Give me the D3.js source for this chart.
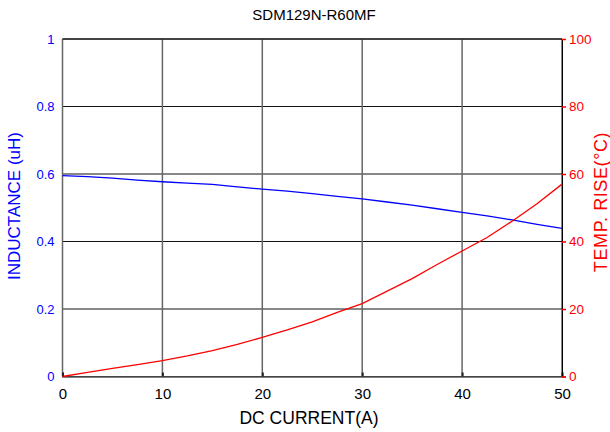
<!DOCTYPE html>
<html>
<head>
<meta charset="utf-8">
<script src="https://cdn.jsdelivr.net/npm/d3@7"></script>
<style>
  body { margin: 0; background: #fff; }
  svg { display: block; font-family: "Liberation Sans", Arial, sans-serif; }
</style>
</head>
<body>
<svg id="chart" width="610" height="432"></svg>
<script>
// readings, every 2.5 A
var current = [0, 2.5, 5, 7.5, 10, 12.5, 15, 17.5, 20, 22.5, 25, 27.5, 30, 32.5, 35, 37.5, 40, 42.5, 45, 47.5, 50];
var inductance = [0.595, 0.592, 0.588, 0.582, 0.577, 0.573, 0.569, 0.562, 0.555, 0.549, 0.542, 0.534, 0.526, 0.517, 0.508, 0.497, 0.486, 0.476, 0.464, 0.451, 0.439];
var tempRise = [0, 1.2, 2.4, 3.5, 4.7, 6.1, 7.7, 9.5, 11.6, 13.8, 16.2, 19.0, 21.6, 25.3, 29.0, 33.2, 37.2, 41.2, 46.0, 51.2, 57.0];
var xTicks = [0, 10, 20, 30, 40, 50];
var leftTicks = [0, 0.2, 0.4, 0.6, 0.8, 1];
var rightTicks = [0, 20, 40, 60, 80, 100];

var svg = d3.select('#chart');
// plot box (named so they don't clash with window.top)
var pLeft = 62.5, pRight = 562, pTop = 39, pBottom = 376.5;

var x = d3.scaleLinear().domain([0, 50]).range([pLeft, pRight]);
var yL = d3.scaleLinear().domain([0, 1]).range([pBottom, pTop]);
var yR = d3.scaleLinear().domain([0, 100]).range([pBottom, pTop]);

// horizontal grid
svg.append('g').selectAll('line')
  .data(leftTicks)
  .enter().append('line')
  .attr('x1', pLeft).attr('x2', pRight)
  .attr('y1', function(d){ return yL(d); })
  .attr('y2', function(d){ return yL(d); })
  .attr('stroke', '#111').attr('stroke-width', 1);

// vertical grid (softer, slightly wider like the reference)
svg.append('g').selectAll('line')
  .data(xTicks)
  .enter().append('line')
  .attr('x1', function(d){ return x(d); })
  .attr('x2', function(d){ return x(d); })
  .attr('y1', pTop).attr('y2', pBottom)
  .attr('stroke', function(d){ return d === 50 ? '#111' : '#666'; })
  .attr('stroke-width', function(d){ return d === 50 ? 1 : 1.5; });

// bottom axis with inward ticks
var xAxis = svg.append('g')
  .attr('transform', 'translate(0,' + pBottom + ')')
  .call(d3.axisBottom(x).tickValues(xTicks).tickSize(-4).tickPadding(12).tickFormat(d3.format('d')));
xAxis.select('.domain').attr('stroke', '#555').attr('stroke-width', 1.5);
xAxis.selectAll('.tick line').attr('stroke', '#222').attr('stroke-width', 2);
xAxis.selectAll('text').attr('font-size', 15).attr('fill', '#000').attr('font-family', 'Liberation Sans, Arial, sans-serif');

// left axis labels (blue, no ticks)
var lAxis = svg.append('g')
  .attr('transform', 'translate(' + pLeft + ',0)')
  .call(d3.axisLeft(yL).tickValues(leftTicks).tickSize(0).tickPadding(8).tickFormat(d3.format('')));
lAxis.select('.domain').remove();
lAxis.selectAll('text').attr('font-size', 13).attr('fill', '#0000ff').attr('font-family', 'Liberation Sans, Arial, sans-serif');

// right axis (red ticks and labels)
var rAxis = svg.append('g')
  .attr('transform', 'translate(' + pRight + ',0)')
  .call(d3.axisRight(yR).tickValues(rightTicks).tickSize(4).tickPadding(3).tickFormat(d3.format('d')));
rAxis.select('.domain').attr('stroke', '#000');
rAxis.selectAll('.tick line').attr('stroke', '#ff0000').attr('stroke-width', 1.5);
rAxis.selectAll('text').attr('font-size', 13.5).attr('fill', '#ff0000').attr('font-family', 'Liberation Sans, Arial, sans-serif');

// top border
svg.append('line')
  .attr('x1', pLeft).attr('x2', pRight).attr('y1', pTop).attr('y2', pTop)
  .attr('stroke', '#000').attr('stroke-width', 1);

// curves
var indLine = d3.line()
  .x(function(d, i){ return x(current[i]); })
  .y(function(d){ return yL(d); });
var tempLine = d3.line()
  .x(function(d, i){ return x(current[i]); })
  .y(function(d){ return yR(d); });

svg.append('path').datum(inductance)
  .attr('d', indLine).attr('fill', 'none')
  .attr('stroke', '#0000ff').attr('stroke-width', 1.3);
svg.append('path').datum(tempRise)
  .attr('d', tempLine).attr('fill', 'none')
  .attr('stroke', '#ff0000').attr('stroke-width', 1.3);

// titles
svg.append('text')
  .attr('x', 314).attr('y', 20)
  .attr('text-anchor', 'middle').attr('font-size', 15).attr('fill', '#000')
  .text('SDM129N-R60MF');

svg.append('text')
  .attr('x', 309).attr('y', 424)
  .attr('text-anchor', 'middle').attr('font-size', 17.5).attr('fill', '#000')
  .text('DC CURRENT(A)');

svg.append('text')
  .attr('transform', 'translate(20,206) rotate(-90)')
  .attr('text-anchor', 'middle').attr('font-size', 17).attr('fill', '#0000ff')
  .text('INDUCTANCE (uH)');

svg.append('text')
  .attr('transform', 'translate(607,202) rotate(-90)')
  .attr('text-anchor', 'middle').attr('font-size', 18).attr('fill', '#ff0000')
  .attr('letter-spacing', 0.6)
  .text('TEMP. RISE(°C)');
</script>
</body>
</html>
